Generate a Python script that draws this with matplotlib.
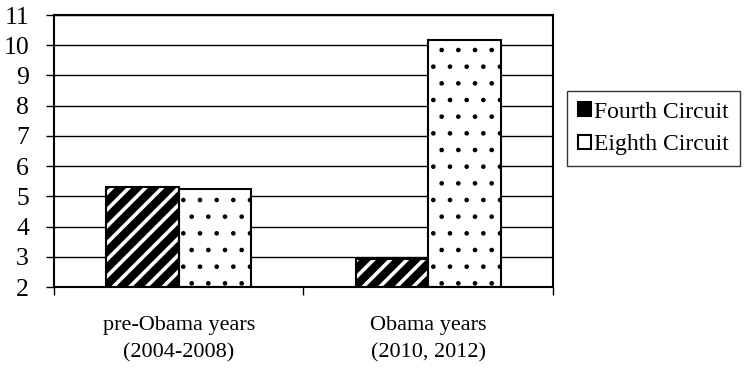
import matplotlib
matplotlib.use("Agg")
import matplotlib.pyplot as plt
from matplotlib.patches import Patch
import numpy as np

categories = ["pre-Obama years\n(2004-2008)", "Obama years\n(2010, 2012)"]
series_names = ["Fourth Circuit", "Eighth Circuit"]
fourth = [5.32, 2.92]
eighth = [5.25, 10.17]
yticks = [2, 3, 4, 5, 6, 7, 8, 9, 10, 11]

plt.rcParams['font.family'] = ['Liberation Serif', 'DejaVu Serif']

fig = plt.figure(figsize=(7.54, 3.8), dpi=100)
ax = fig.add_axes([0.0716, 0.2447, 0.6618, 0.7158])

x = np.arange(len(categories))
w = 0.29
ax.set_axisbelow(True)
# Fourth circuit: black with white stripes
with plt.rc_context({'hatch.linewidth': 2.6}):
    b1 = ax.bar(x - w/2, np.array(fourth) - 2, w, bottom=2, facecolor='black',
                edgecolor='white', hatch='//', linewidth=0, zorder=2)
for p in b1:
    if hasattr(p, 'set_hatch_linewidth'):
        p.set_hatch_linewidth(2.6)
ax.bar(x - w/2, np.array(fourth) - 2, w, bottom=2, fill=False,
       edgecolor='black', linewidth=1.5, zorder=3)
# Eighth circuit: dotted
with plt.rc_context({'hatch.linewidth': 0.9}):
    b2 = ax.bar(x + w/2, np.array(eighth) - 2, w, bottom=2, facecolor='white',
                edgecolor='black', hatch='.', linewidth=1.5, zorder=2)
for p in b2:
    if hasattr(p, 'set_hatch_linewidth'):
        p.set_hatch_linewidth(0.9)

ax.set_xlim(-0.5, 1.5)
ax.set_ylim(2, 11)
ax.set_yticks(yticks)
ax.set_yticklabels([str(t) for t in yticks], fontsize=18.5)
ax.yaxis.grid(True, color='black', linewidth=1)
ax.tick_params(axis='y', direction='out', length=6, width=1, pad=12)

ax.set_xticks([-0.5, 0.5, 1.5])
ax.set_xticklabels([])
ax.set_xticks(x, minor=True)
ax.set_xticklabels(categories, minor=True, fontsize=16, linespacing=1.55)
ax.tick_params(axis='x', which='major', direction='out', length=6, width=1)
ax.tick_params(axis='x', which='minor', length=0, pad=21)

for s in ax.spines.values():
    s.set_linewidth(1.5)
    s.set_color('black')

handles = [Patch(facecolor='black', edgecolor='black', hatch='/', linewidth=1.5),
           Patch(facecolor='white', edgecolor='black', linewidth=1.5)]
leg = fig.legend(handles, series_names, loc='upper left',
                 bbox_to_anchor=(0.752, 0.7605), borderaxespad=0,
                 fontsize=17, frameon=True, fancybox=False,
                 handlelength=0.55, handleheight=0.55, handletextpad=0.15,
                 borderpad=0.45, labelspacing=0.5)
leg.get_frame().set_edgecolor('black')
leg.get_frame().set_linewidth(1)

fig.savefig("out.png", dpi=100)
